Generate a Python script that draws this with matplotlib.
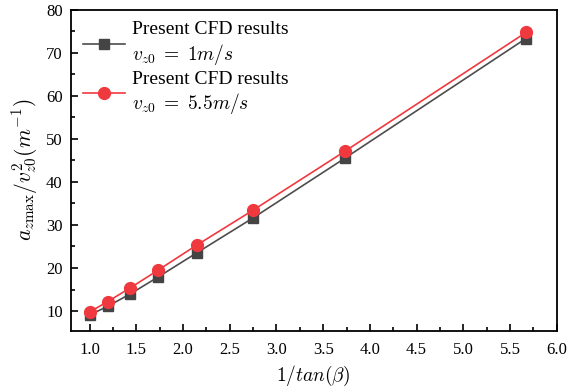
import matplotlib
matplotlib.use("Agg")
import matplotlib.pyplot as plt
from matplotlib.ticker import MultipleLocator

# 1/tan(beta) for beta = 45, 40, 35, 30, 25, 20, 15, 10 deg
x_vals = [1.0, 1.192, 1.428, 1.732, 2.145, 2.747, 3.732, 5.671]
acc_v1 = [9.1, 11.1, 13.9, 17.9, 23.5, 31.6, 45.5, 73.3]
acc_v55 = [9.8, 12.2, 15.3, 19.5, 25.3, 33.4, 47.1, 74.7]

label_v1 = "Present CFD results\n$v_{z0}\\;=\\;1m/s$"
label_v55 = "Present CFD results\n$v_{z0}\\;=\\;5.5m/s$"

plt.rcParams['font.family'] = ['Liberation Serif', 'DejaVu Serif']
plt.rcParams['mathtext.fontset'] = 'cm'

fig = plt.figure(figsize=(5.68, 3.87), dpi=100)
ax = fig.add_axes([0.125, 0.145, 0.855, 0.83])

ax.plot(x_vals, acc_v1, color='#4d4d4d', lw=1.2, marker='s', ms=7,
        mfc='#444444', mec='#444444', label=label_v1)
ax.plot(x_vals, acc_v55, color='#f0393f', lw=1.2, marker='o', ms=8.5,
        mfc='#f0393f', mec='#f0393f', label=label_v55)

ax.set_xlim(0.8, 6.0)
ax.set_ylim(5.4, 80)
ax.xaxis.set_major_locator(MultipleLocator(0.5))
ax.xaxis.set_minor_locator(MultipleLocator(0.25))
ax.yaxis.set_major_locator(MultipleLocator(10))
ax.yaxis.set_minor_locator(MultipleLocator(5))
ax.tick_params(which='both', direction='in', top=False, right=False,
               labelsize=12, width=1.2)
ax.tick_params(which='major', length=5)
ax.tick_params(which='minor', length=3)
ax.tick_params(axis='x', pad=8)
ax.tick_params(axis='y', pad=6)
for s in ax.spines.values():
    s.set_linewidth(1.3)

ax.set_xlabel(r"$1/tan(\beta)$", fontsize=14)
ax.set_ylabel(r"$a_{z\max}/v_{z0}^{2}(m^{-1})$", fontsize=15.5)

ax.legend(loc='upper left', frameon=False, fontsize=14, handlelength=2.2,
          handletextpad=0.35, borderaxespad=0.2, labelspacing=0.2)

fig.savefig("out.png", dpi=100)
